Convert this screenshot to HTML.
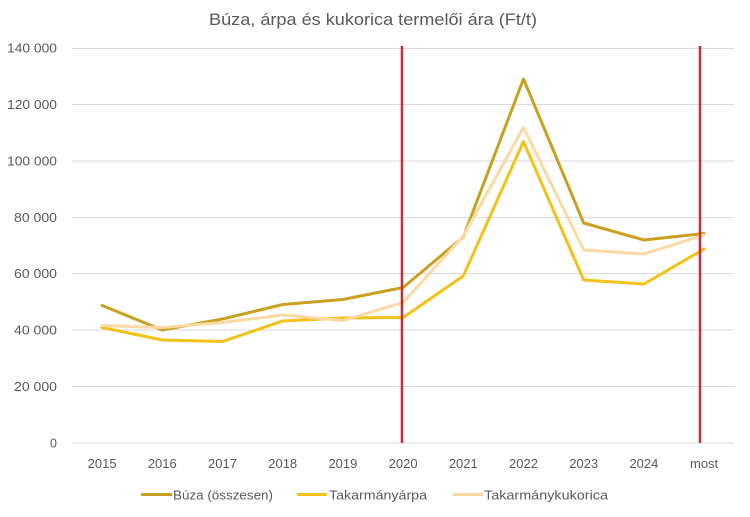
<!DOCTYPE html>
<html>
<head>
<meta charset="utf-8">
<style>
html,body{margin:0;padding:0;background:#fff;}
svg{display:block;}
text{font-family:"Liberation Sans",Arial,sans-serif;fill:#595959;}
</style>
</head>
<body>
<svg width="750" height="517" viewBox="0 0 750 517" xmlns="http://www.w3.org/2000/svg">
<rect width="750" height="517" fill="#fff"/>
<text x="373" y="25" font-size="17" text-anchor="middle" textLength="328" lengthAdjust="spacingAndGlyphs">Búza, árpa és kukorica termelői ára (Ft/t)</text>
<g stroke="#D9D9D9" stroke-width="1">
<line x1="72" x2="734" y1="48.5" y2="48.5"/>
<line x1="72" x2="734" y1="104.5" y2="104.5"/>
<line x1="72" x2="734" y1="161" y2="161"/>
<line x1="72" x2="734" y1="217.5" y2="217.5"/>
<line x1="72" x2="734" y1="273.5" y2="273.5"/>
<line x1="72" x2="734" y1="330" y2="330"/>
<line x1="72" x2="734" y1="386.5" y2="386.5"/>
<line x1="72" x2="734" y1="443" y2="443"/>
</g>
<g font-size="12.5" text-anchor="end">
<text x="57" y="52.5" textLength="50" lengthAdjust="spacingAndGlyphs">140 000</text>
<text x="57" y="109" textLength="50" lengthAdjust="spacingAndGlyphs">120 000</text>
<text x="57" y="165.5" textLength="50" lengthAdjust="spacingAndGlyphs">100 000</text>
<text x="57" y="222" textLength="43" lengthAdjust="spacingAndGlyphs">80 000</text>
<text x="57" y="278" textLength="43" lengthAdjust="spacingAndGlyphs">60 000</text>
<text x="57" y="334.5" textLength="43" lengthAdjust="spacingAndGlyphs">40 000</text>
<text x="57" y="391" textLength="43" lengthAdjust="spacingAndGlyphs">20 000</text>
<text x="57" y="447.5">0</text>
</g>
<g font-size="13" text-anchor="middle">
<text x="102.1" y="468">2015</text>
<text x="162.3" y="468">2016</text>
<text x="222.5" y="468">2017</text>
<text x="282.7" y="468">2018</text>
<text x="342.9" y="468">2019</text>
<text x="403.1" y="468">2020</text>
<text x="463.3" y="468">2021</text>
<text x="523.5" y="468">2022</text>
<text x="583.7" y="468">2023</text>
<text x="643.9" y="468">2024</text>
<text x="704.1" y="468">most</text>
</g>
<g fill="none" stroke-width="3" stroke-linejoin="round" stroke-linecap="round">
<polyline stroke="#C9A020" points="102.1,305.5 162.3,330 222.5,319 282.7,304.5 342.9,299.5 403.1,287.5 463.3,237 523.5,79 583.7,223 643.9,240 704.1,233.5"/>
<polyline stroke="#F3C117" points="102.1,327.5 162.3,340 222.5,341.5 282.7,321 342.9,318 403.1,317.5 463.3,276 523.5,141.5 583.7,280 643.9,284 704.1,249"/>
<polyline stroke="#FBD9A4" points="102.1,325.5 162.3,327.5 222.5,322.5 282.7,315 342.9,320.5 403.1,302.5 463.3,236 523.5,127.5 583.7,250 643.9,254 704.1,235"/>
</g>
<g stroke="#CC2A30" stroke-width="2.5">
<line x1="402" x2="402" y1="46" y2="443"/>
<line x1="700" x2="700" y1="46" y2="443"/>
</g>
<g stroke-width="3">
<line x1="141" x2="172" y1="494.5" y2="494.5" stroke="#C9A020"/>
<line x1="297" x2="327" y1="494.5" y2="494.5" stroke="#F3C117"/>
<line x1="453" x2="483" y1="494.5" y2="494.5" stroke="#FBD9A4"/>
</g>
<g font-size="13">
<text x="173" y="499.5" textLength="100" lengthAdjust="spacingAndGlyphs">Búza (összesen)</text>
<text x="329" y="499.5" textLength="98" lengthAdjust="spacingAndGlyphs">Takarmányárpa</text>
<text x="484" y="499.5" textLength="124" lengthAdjust="spacingAndGlyphs">Takarmánykukorica</text>
</g>
</svg>
</body>
</html>
